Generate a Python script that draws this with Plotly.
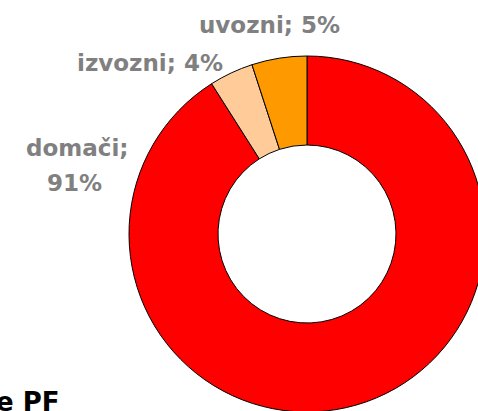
import plotly.graph_objects as go

# ---- data ----
labels = ["domači", "izvozni", "uvozni"]
values = [91, 4, 5]
colors = ["#FF0000", "#FFCC99", "#FF9900"]
footer_text = "e PF"

# ---- canvas (slightly larger than window so the pie is cropped like the reference) ----
W, H = 490, 422
CX, CY, R = 307, 234, 178

def px_x(x):
    return x / W

def px_y(y):
    return 1 - y / H

fig = go.Figure(
    go.Pie(
        labels=labels,
        values=values,
        marker=dict(colors=colors, line=dict(color="black", width=1)),
        hole=0.5,
        sort=False,
        direction="clockwise",
        rotation=0,
        textinfo="none",
        hoverinfo="label+percent",
        domain=dict(x=[px_x(CX - R), px_x(CX + R)], y=[px_y(CY + R), px_y(CY - R)]),
        showlegend=False,
    )
)

lab_font = dict(family="DejaVu Sans", size=23, color="#808080", weight="bold")

# label positions (pixel centres)
label_pos = {
    "uvozni": [(269, 25)],
    "izvozni": [(150, 63)],
    "domači": [(77, 148), (74, 183)],
}

for lab, val in zip(labels, values):
    pos = label_pos[lab]
    if len(pos) == 1:
        texts = [f"{lab}; {val}%"]
    else:
        texts = [f"{lab};", f"{val}%"]
    for (x, y), t in zip(pos, texts):
        fig.add_annotation(
            text=t, x=px_x(x), y=px_y(y), xref="paper", yref="paper",
            xanchor="center", yanchor="middle", showarrow=False, font=lab_font,
        )

fig.add_annotation(
    text=footer_text, x=px_x(62), y=px_y(402), xref="paper", yref="paper",
    xanchor="right", yanchor="middle", showarrow=False,
    font=dict(family="DejaVu Sans", size=26, color="black", weight="bold"),
)

fig.update_layout(
    width=W, height=H,
    margin=dict(l=0, r=0, t=0, b=0),
    paper_bgcolor="white",
    plot_bgcolor="white",
)

fig.write_html(
    "out.html",
    post_script="document.documentElement.style.overflow='hidden';document.body.style.overflow='hidden';document.body.style.margin='0';",
)
